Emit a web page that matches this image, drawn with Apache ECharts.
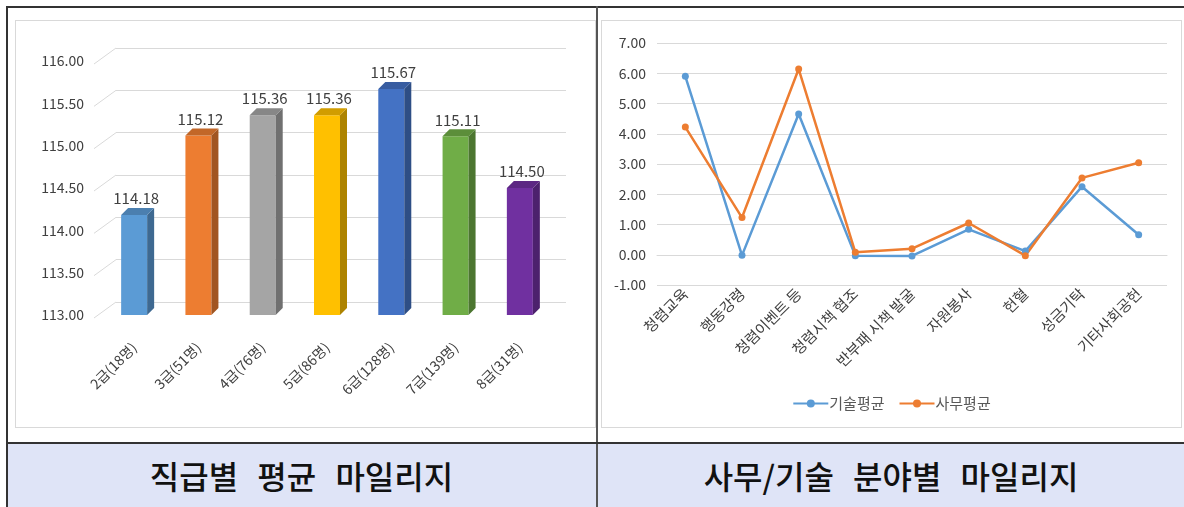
<!DOCTYPE html>
<html>
<head>
<meta charset="utf-8">
<script src="https://cdn.jsdelivr.net/npm/echarts@6/dist/echarts.min.js"></script>
<style>
  body { margin: 0; width: 1184px; height: 507px; background: #fff; overflow: hidden;
         font-family: 'Noto Sans CJK KR', sans-serif; position: relative; }
  .line { position: absolute; background: #333; }
  .box { position: absolute; box-sizing: border-box; border: 1px solid #d9d9d9; background: #fff; }
  .titlebar { position: absolute; left: 7px; top: 443px; width: 1177px; height: 64px; background: #dfe4f7; }
  .title { position: absolute; top: 443px; height: 64px; line-height: 64px; text-align: center;
           font-size: 32px; font-weight: 500; color: #111; word-spacing: 12px; }
</style>
</head>
<body>
<div class="titlebar"></div>
<div class="line" style="left:6px; top:6px; width:1178px; height:2px"></div>
<div class="line" style="left:6px; top:6px; width:2px; height:501px"></div>
<div class="line" style="left:596px; top:6px; width:2px; height:501px; background:#555"></div>
<div class="line" style="left:6px; top:442px; width:1178px; height:2px"></div>
<div class="title" style="left:7px; width:589px">직급별 평균 마일리지</div>
<div class="title" style="left:598px; width:586px">사무/기술 분야별 마일리지</div>

<div class="box" id="rank" style="left:15px; top:20px; width:581px; height:408px"></div>
<div class="box" id="field" style="left:601px; top:20px; width:581px; height:408px"></div>

<script>
// 직급별 평균 마일리지
const ranks = ['2급(18명)', '3급(51명)', '4급(76명)', '5급(86명)', '6급(128명)', '7급(139명)', '8급(31명)']
const rankAvg = [114.18, 115.12, 115.36, 115.36, 115.67, 115.11, 114.50]
const rankColors = ['#5b9bd5', '#ed7d31', '#a5a5a5', '#ffc000', '#4472c4', '#70ad47', '#7030a0']
const rankTicks = [113, 113.5, 114, 114.5, 115, 115.5, 116]

// 사무/기술 분야별 마일리지
const fields = ['청렴교육', '행동강령', '청렴이벤트 등', '청렴시책 협조', '반부패 시책 발굴', '자원봉사', '헌혈', '성금기탁', '기타사회공헌']
const techAvg = [5.9, -0.02, 4.65, -0.03, -0.04, 0.84, 0.12, 2.25, 0.66]
const officeAvg = [4.22, 1.23, 6.14, 0.08, 0.2, 1.05, -0.03, 2.54, 3.04]

const axisText = { color: '#404040', fontSize: 14, fontFamily: 'Noto Sans CJK KR' }

// darken a hex colour by factor f (0..1)
function shade(hex, f) {
  const n = parseInt(hex.slice(1), 16)
  const ch = [(n >> 16) & 255, (n >> 8) & 255, n & 255].map((v) => Math.round(v * f))
  return 'rgb(' + ch.join(',') + ')'
}

const rankChart = echarts.init(document.getElementById('rank'))
const BASE = 113
const FW = 26, DX = 7, DY = 7

rankChart.setOption({
  animation: false,
  grid: [
    { left: 100, width: 450, top: 27, height: 254 },  // back wall
    { left: 86, width: 450, top: 40, height: 254 },   // bars
  ],
  xAxis: [
    { gridIndex: 0, type: 'category', data: ranks, show: false },
    {
      gridIndex: 1, type: 'category', data: ranks,
      axisLine: { show: false }, axisTick: { show: false },
      axisLabel: { ...axisText, fontSize: 14, rotate: 45, margin: 30, interval: 0 },
    },
  ],
  yAxis: [
    {
      gridIndex: 0, type: 'value', min: 113, max: 116, interval: 0.5,
      axisLabel: { show: false }, axisLine: { show: false }, axisTick: { show: false },
      splitLine: { lineStyle: { color: '#d9d9d9' } },
    },
    {
      gridIndex: 1, type: 'value', min: 113, max: 116, interval: 0.5,
      axisLine: { show: false }, axisTick: { show: false }, splitLine: { show: false },
      axisLabel: { ...axisText, margin: 18, padding: [14, 0, 0, 0], formatter: (v) => v.toFixed(2) },
    },
  ],
  series: [
    {
      // slanted side-wall edges of the gridlines
      type: 'custom', xAxisIndex: 0, yAxisIndex: 0, silent: true,
      data: rankTicks.map((v) => [0, v]),
      renderItem: (params, api) => {
        const y = api.coord([0, api.value(1)])[1]
        const x = params.coordSys.x
        return {
          type: 'line',
          shape: { x1: x - 22, y1: y + 16, x2: x, y2: y },
          style: { stroke: '#d9d9d9', lineWidth: 1 },
        }
      },
    },
    {
      type: 'custom', xAxisIndex: 1, yAxisIndex: 1,
      data: rankAvg.map((v, i) => [i, v]),
      renderItem: (params, api) => {
        const i = api.value(0)
        const base = api.coord([i, BASE])
        const top = api.coord([i, api.value(1)])
        const cx = base[0], by = base[1], ty = top[1]
        const c = rankColors[i]
        const l = cx - FW / 2, r = cx + FW / 2
        return {
          type: 'group',
          children: [
            { type: 'rect', shape: { x: l, y: ty, width: FW, height: by - ty }, style: { fill: c } },
            {
              type: 'polygon',
              shape: { points: [[r, ty], [r + DX, ty - DY], [r + DX, by - DY], [r, by]] },
              style: { fill: shade(c, 0.68) },
            },
            {
              type: 'polygon',
              shape: { points: [[l, ty], [l + DX, ty - DY], [r + DX, ty - DY], [r, ty]] },
              style: { fill: shade(c, 0.82) },
            },
            {
              type: 'text',
              style: {
                x: cx + 2, y: ty - 9, text: api.value(1).toFixed(2),
                align: 'center', verticalAlign: 'bottom',
                fill: '#404040', fontSize: 15, fontFamily: 'Noto Sans CJK KR',
              },
            },
          ],
        }
      },
    },
  ],
})

const fieldChart = echarts.init(document.getElementById('field'))
fieldChart.setOption({
  animation: false,
  color: ['#5b9bd5', '#ed7d31'],
  grid: { left: 55, width: 510, top: 22, height: 242 },
  legend: {
    data: ['기술평균', '사무평균'],
    left: 'center', top: 370,
    itemWidth: 35, itemHeight: 10, itemGap: 14,
    textStyle: { ...axisText, color: '#595959', fontSize: 15, padding: [0, 0, 0, -4] },
  },
  xAxis: {
    type: 'category', data: fields,
    axisLine: { lineStyle: { color: '#d9d9d9' } }, axisTick: { show: false },
    axisLabel: { ...axisText, fontSize: 15, rotate: 45, margin: 6, interval: 0 },
  },
  yAxis: {
    type: 'value', min: -1, max: 7, interval: 1,
    axisLine: { show: false }, axisTick: { show: false },
    splitLine: { lineStyle: { color: '#d9d9d9' } },
    axisLabel: { ...axisText, margin: 11, formatter: (v) => v.toFixed(2) },
  },
  series: [
    {
      name: '기술평균', type: 'line', data: techAvg,
      symbol: 'circle', symbolSize: 7,
      lineStyle: { width: 2.5 },
    },
    {
      name: '사무평균', type: 'line', data: officeAvg,
      symbol: 'circle', symbolSize: 7,
      lineStyle: { width: 2.5 },
    },
  ],
})
</script>
</body>
</html>
